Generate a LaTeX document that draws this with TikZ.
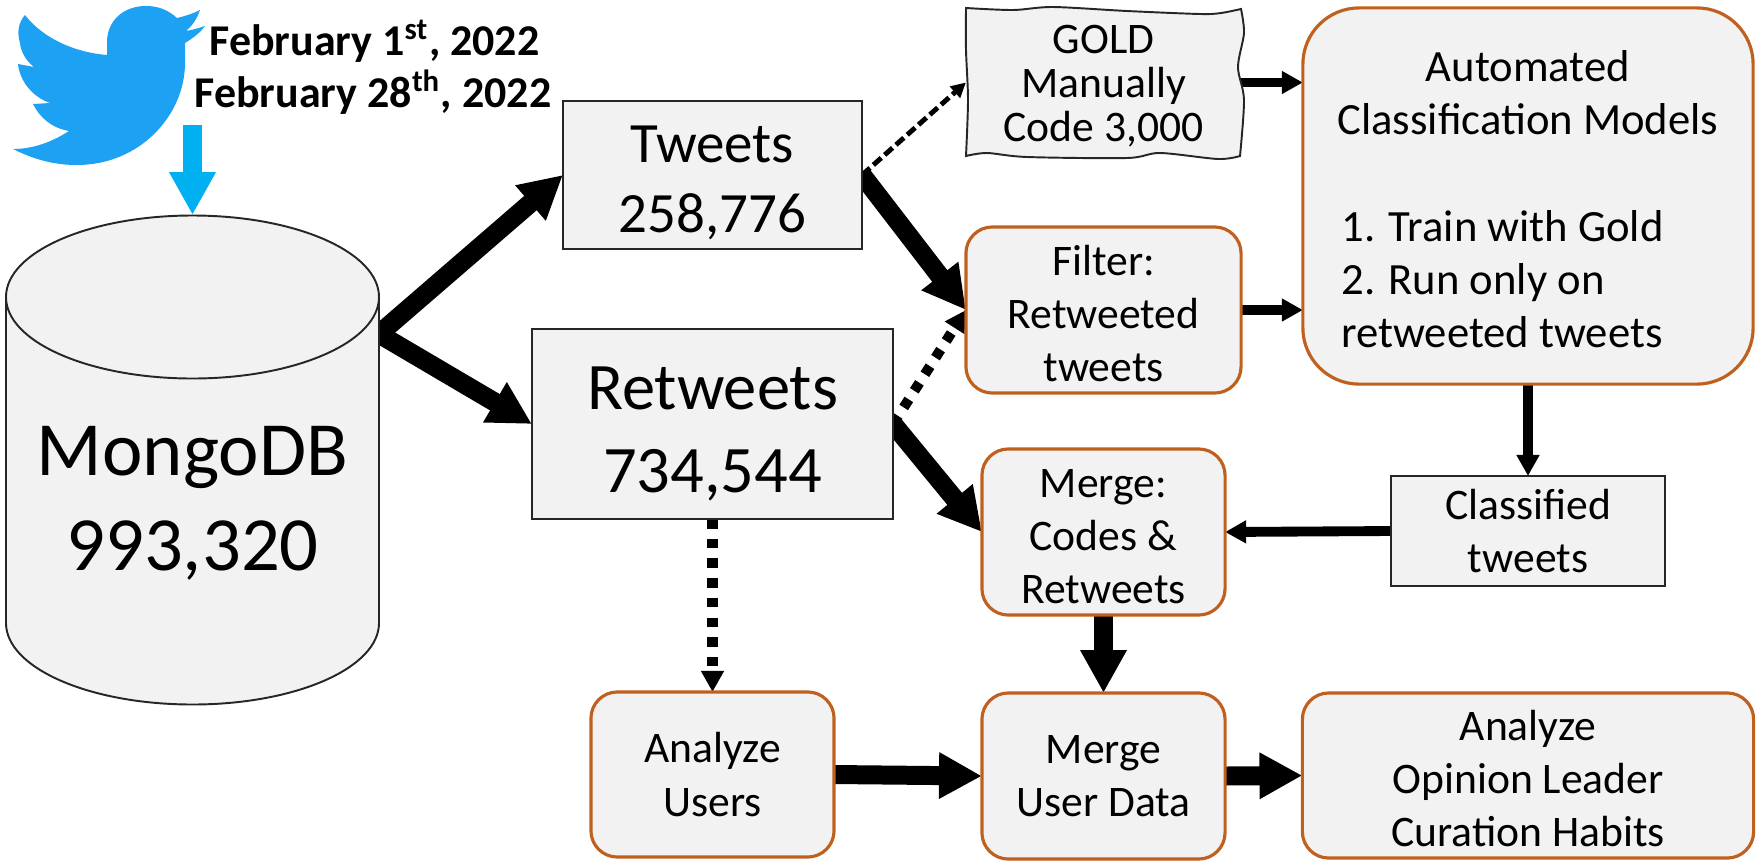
\documentclass[tikz,border=0pt]{standalone}
\usepackage{fontspec}
\setmainfont{Carlito}
\usetikzlibrary{arrows.meta, backgrounds}

\definecolor{boxgray}{HTML}{F2F2F2}
\definecolor{rustline}{HTML}{C0601F}
\definecolor{birdblue}{HTML}{1DA1F2}
\definecolor{feedblue}{HTML}{00B0F0}

% pushes the text of a box down a little
\newcommand{\topgap}[1]{\rule{0pt}{#1}}

\tikzset{
    plainbox/.style={draw=black!85, line width=0.55pt, fill=boxgray, inner sep=0pt, outer sep=0pt, align=center},
    roundbox/.style={draw=rustline, line width=0.9pt, fill=boxgray, rounded corners=7.5pt, inner sep=0pt, outer sep=0pt, align=center},
    smalltext/.style={font=\fontsize{12.4}{15.1}\selectfont},
    datetext/.style={font=\bfseries\fontsize{12.5}{15}\selectfont, anchor=base west, inner sep=0pt},
    bigarrow/.style={line width=5.4pt, -{Triangle[length=12.2pt, width=12.4pt]}},
    smallarrow/.style={line width=2.8pt, -{Triangle[length=6pt, width=6.2pt]}},
    dotarrow/.style={line width=2.9pt, dash pattern=on 2.7pt off 2.9pt, -{Triangle[length=6pt, width=6.2pt]}},
    dasharrow/.style={line width=1.4pt, dash pattern=on 3pt off 1.3pt, -{Triangle[length=4.2pt, width=4.2pt]}}
}

\begin{document}
\begin{tikzpicture}[x=0.01cm, y=-0.01cm]
    \useasboundingbox (0,0) rectangle (1760,866);

    % twitter bird
    \fill[birdblue] (200,10) .. controls (192,14) and (185,16) .. (177,18)
        .. controls (167,9) and (157,6) .. (146,6)
        .. controls (122,6) and (107,22) .. (107,42) -- (107,55)
        .. controls (72,52) and (42,37) .. (25,15)
        .. controls (18,23) and (17,33) .. (20,43)
        .. controls (21,52) and (26,61) .. (34,67) -- (18,64)
        .. controls (20,82) and (33,97) .. (50,103) -- (33,104)
        .. controls (40,118) and (52,128) .. (69,131)
        .. controls (52,142) and (33,149) .. (13,149)
        .. controls (35,160) and (55,165) .. (77,165)
        .. controls (140,165) and (185,115) .. (185,63) -- (185,43)
        .. controls (193,38) and (200,33) .. (205,26)
        .. controls (199,28) and (192,30) .. (186,31)
        .. controls (192,26) and (197,19) .. (200,10) -- cycle;

    \node[datetext] (dateone) at (209,55) {February 1\textsuperscript{st}, 2022};
    \node[datetext] (datetwo) at (194,107) {February 28\textsuperscript{th}, 2022};

    % hand drawn outline of the gold box
    \draw[draw=black!85, line width=0.55pt, fill=boxgray]
        plot[smooth] coordinates {(966,8) (1013,10) (1053,7) (1127,11) (1200,14) (1221,13) (1241,9)}
        -- plot[smooth] coordinates {(1241,9) (1244,33) (1238,67) (1244,100) (1240,156)}
        -- plot[smooth] coordinates {(1240,156) (1218,159) (1160,153) (1127,158) (1027,157) (987,153) (966,156)}
        -- plot[smooth] coordinates {(966,156) (968,100) (966,50) (966,8)} -- cycle;

    % database drum
    \draw[draw=black!85, line width=0.55pt, fill=boxgray] (6,297) -- (6,623)
        .. controls (6,668) and (89.5,704.5) .. (192.5,704.5)
        .. controls (295.5,704.5) and (379,668) .. (379,623) -- (379,297) -- cycle;
    \draw[draw=black!85, line width=0.55pt, fill=boxgray] (192.5,297) ellipse [x radius=186.5, y radius=81.5];
    \node[font=\fontsize{21.8}{27}\selectfont, align=center] (mongo) at (192.5,503) {MongoDB\\993,320};

    \node[plainbox, minimum width=2.99cm, minimum height=1.48cm, font=\fontsize{16.2}{19.9}\selectfont] (tweets) at (712.5,175) {\topgap{15pt}Tweets\\258,776};
    \node[plainbox, minimum width=3.61cm, minimum height=1.90cm, font=\fontsize{18.9}{23.6}\selectfont] (retweets) at (712.5,424) {\topgap{18pt}Retweets\\734,544};
    \node[inner sep=0pt, outer sep=0pt, minimum width=2.75cm, minimum height=1.48cm, align=center, font=\fontsize{12.4}{12.5}\selectfont] (gold) at (1103.5,82.5) {\topgap{10pt}GOLD\\Manually\\Code 3,000};
    \node[roundbox, smalltext, minimum width=2.75cm, minimum height=1.66cm] (filter) at (1103.5,310) {\topgap{10.5pt}Filter:\\Retweeted\\tweets};
    \node[roundbox, smalltext, rounded corners=16pt, minimum width=4.50cm, minimum height=3.76cm, align=left, font=\fontsize{12.7}{15.1}\selectfont] (models) at (1528,196)
        {\makebox[3.73cm][c]{\topgap{10.6pt}Automated}\\\makebox[3.73cm][c]{Classification Models}\\[15.1pt]1. Train with Gold\\2. Run only on\\retweeted tweets};
    \node[plainbox, smalltext, minimum width=2.74cm, minimum height=1.10cm] (classified) at (1528,531) {Classified\\tweets};
    \node[roundbox, smalltext, minimum width=2.43cm, minimum height=1.66cm] (mergecodes) at (1103.5,532) {\topgap{10.5pt}Merge:\\Codes \&\\Retweets};
    \node[roundbox, smalltext, minimum width=2.43cm, minimum height=1.65cm] (users) at (712.5,774.5) {Analyze\\Users};
    \node[roundbox, smalltext, minimum width=2.43cm, minimum height=1.66cm] (mergeusers) at (1103.5,776) {Merge\\User Data};
    \node[roundbox, smalltext, minimum width=4.51cm, minimum height=1.65cm] (habits) at (1528,775.5) {\topgap{10.3pt}Analyze\\Opinion Leader\\Curation Habits};

    \coordinate (birdout) at (192.5,125);
    \coordinate (mongotop) at (192.5,215);
    \coordinate (mongoout) at (379,334);

    % arrows go under the boxes
    \begin{scope}[on background layer]
        \draw[bigarrow, feedblue] (birdout) -- (mongotop);
        \draw[bigarrow] (mongoout) -- (tweets.west);
        \draw[bigarrow] (mongoout) -- (retweets.west);
        \draw[dasharrow] (tweets.east) -- (gold.west);
        \draw[bigarrow] (tweets.east) -- (filter.west);
        \draw[dotarrow] (retweets.east) -- (filter.west);
        \draw[bigarrow] (retweets.east) -- (mergecodes.west);
        \draw[dotarrow] (retweets.south) -- (users.north);
        \draw[smallarrow] (gold.east) -- (gold.east -| models.west);
        \draw[smallarrow] (filter.east) -- (filter.east -| models.west);
        \draw[smallarrow] (models.south) -- (classified.north);
        \draw[smallarrow] (classified.west) -- (mergecodes.east);
        \draw[bigarrow] (mergecodes.south) -- (mergeusers.north);
        \draw[bigarrow] (users.east) -- (mergeusers.west);
        \draw[bigarrow] (mergeusers.east) -- (habits.west);
    \end{scope}
\end{tikzpicture}
\end{document}
